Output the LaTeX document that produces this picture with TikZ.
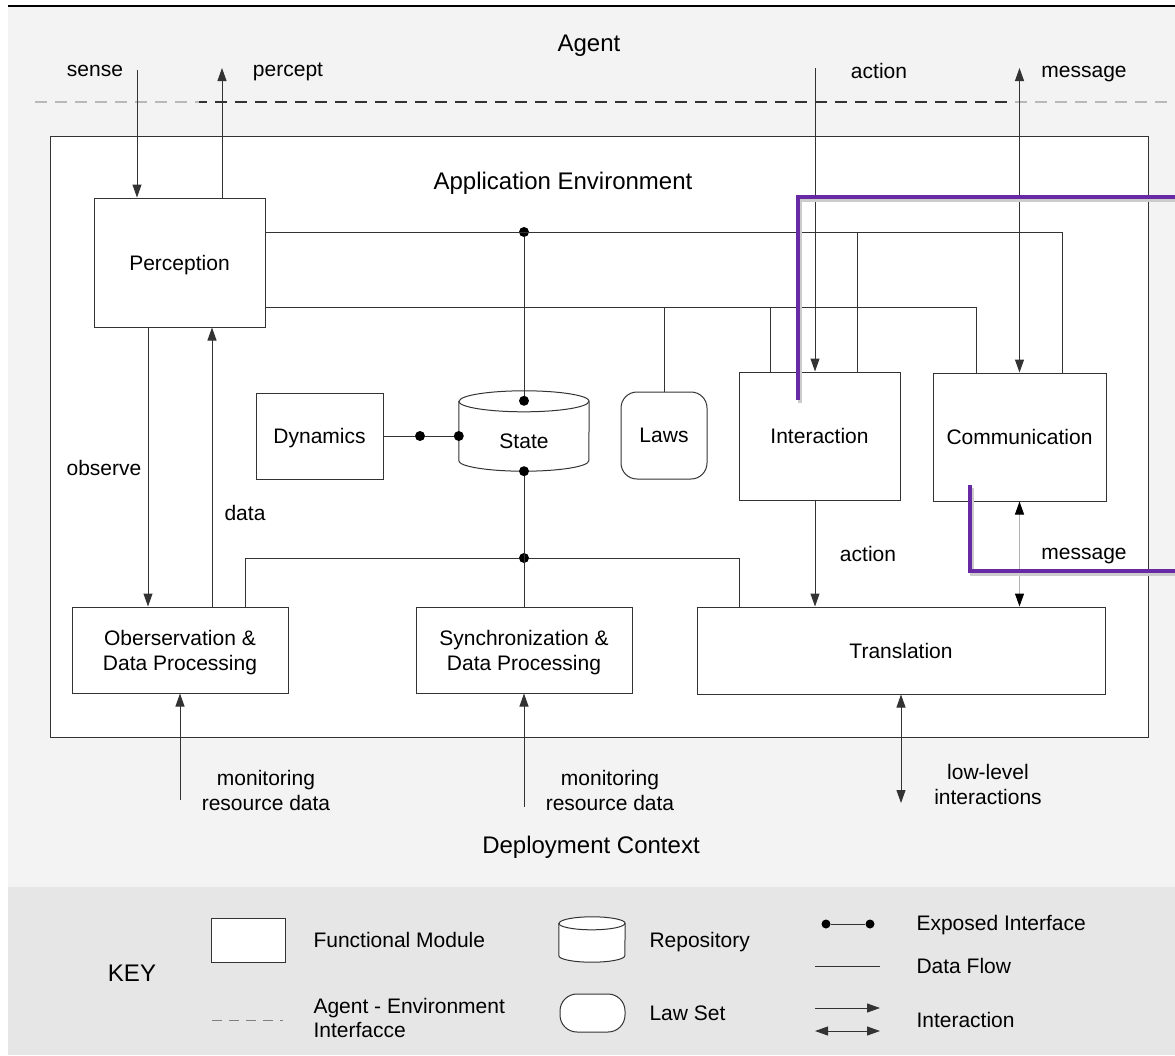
\documentclass[tikz,border=0pt]{standalone}
\usepackage{fontspec}
\setmainfont{Liberation Sans}
\usetikzlibrary{calc}
\usetikzlibrary{arrows.meta}

\definecolor{linegray}{HTML}{333333}
\definecolor{ctxgray}{HTML}{F2F3F2}
\definecolor{keygray}{HTML}{E6E6E6}
\definecolor{hilite}{RGB}{104,42,164}

\tikzset{
  module/.style={draw=linegray, fill=white, line width=1pt, align=center, inner sep=0pt,
    text depth=0pt, font=\fontsize{21}{25}\selectfont},
  repo/.style={inner sep=0pt},
  lawset/.style={module, rounded corners=16pt},
  port/.style={circle, fill=black, inner sep=0pt, minimum size=10pt},
  lbl/.style={align=center, text depth=0pt, font=\fontsize{21}{25}\selectfont},
  keylbl/.style={lbl, anchor=west, align=left},
  ttl/.style={text depth=0pt, font=\fontsize{24}{28}\selectfont},
  flow/.style={draw=linegray, line width=1pt},
  hl/.style={draw=hilite, line width=4pt},
}

% cylinder round a node: name, x radius, y radius of the caps
\newcommand{\drawrepo}[3]{%
  \filldraw[draw=linegray, fill=white, line width=1pt]
    ([yshift=-#3pt]#1.north west) -- ([yshift=#3pt]#1.south west)
    arc[start angle=180, end angle=360, x radius=#2pt, y radius=#3pt]
    -- ([yshift=-#3pt]#1.north east)
    arc[start angle=0, end angle=180, x radius=#2pt, y radius=#3pt] -- cycle;
  \draw[draw=linegray, line width=1pt] ([yshift=-#3pt]#1.north west)
    arc[start angle=180, end angle=360, x radius=#2pt, y radius=#3pt];}

\begin{document}
\begin{tikzpicture}[x=1pt, y=1pt, >={Triangle[length=13pt,width=9pt]}]
\useasboundingbox (0,0) rectangle (1175,-1055);
% context and key backgrounds
\fill[ctxgray] (8,-6) rectangle (1175,-887);
\fill[keygray] (8,-887) rectangle (1175,-1055);
\draw[black, line width=1.4pt] (8,-6) -- (1175,-6);

% agent - environment interface
\draw[gray!55, line width=1.3pt, dash pattern=on 12pt off 8pt] (35,-102) -- (199,-102);
\draw[linegray, line width=1.3pt, dash pattern=on 12pt off 8pt, dash phase=4pt] (199,-102) -- (1013,-102);
\draw[gray!55, line width=1.3pt, dash pattern=on 12pt off 8pt, dash phase=18pt] (1013,-102) -- (1175,-102);
\node[ttl] (agent) at (589,-43) {Agent};

% application environment
\node[module, minimum width=1098pt, minimum height=601pt] (appenv) at (599,-436.5) {};
\node[ttl] (appenvlbl) at (563,-181) {Application Environment};

\node[module, minimum width=171pt, minimum height=129pt] (perception) at (179.5,-262.5) {Perception};
\node[module, minimum width=127pt, minimum height=86pt] (dynamics) at (319.5,-436) {Dynamics};
\node[repo, minimum width=130pt, minimum height=80pt] (state) at (524,-431) {};
\drawrepo{state}{65}{10.5}
\node[lbl] (statelbl) at ([yshift=-10pt]state.center) {State};
\node[lawset, minimum width=86pt, minimum height=87pt] (laws) at (664,-435.5) {Laws};
\node[module, minimum width=161pt, minimum height=128pt] (interaction) at (819.5,-436) {Interaction};
\node[module, minimum width=173pt, minimum height=128pt] (comm) at (1019.5,-437) {Communication};
\node[module, minimum width=216pt, minimum height=86pt] (obs) at (180,-650) {Oberservation \&\\Data Processing};
\node[module, minimum width=216pt, minimum height=86pt] (sync) at (524,-650) {Synchronization \&\\Data Processing};
\node[module, minimum width=408pt, minimum height=87pt] (trans) at (901,-650.5) {Translation};

% exposed interfaces
\node[port] (topbus) at (524,-232) {};
\node[port] (statetop) at ([yshift=-10pt]state.north) {};
\node[port] (statebot) at (state.south) {};
\node[port] (dyndot) at (420,-436) {};
\node[port] (statewest) at (state.west |- dyndot) {};
\node[port] (lowbus) at (524,-558) {};
\coordinate (midbus) at (664,-307);

% data flows
\draw[flow] ([yshift=30.5pt]perception.east) -| ([xshift=-44.5pt]comm.north east);
\draw[flow] ([xshift=-43pt]interaction.north east) |- (topbus);
\draw[flow] (topbus) -- (statetop);
\draw[flow] ([yshift=-44.5pt]perception.east) -| ([xshift=44pt]comm.north west);
\draw[flow] (laws.north) -- (midbus);
\draw[flow] ([xshift=32pt]interaction.north west) |- (midbus);
\draw[flow] (dynamics.east) -- (dyndot) -- (statewest);
\draw[flow] (statebot) -- (sync.north);
\draw[flow] ([xshift=65pt]obs.north) |- (lowbus) -| ([xshift=-162pt]trans.north);

% interactions with the agent
\coordinate (senseend) at (137,-70);
\coordinate (perceptend) at (222,-68);
\coordinate (actionend) at (815,-68);
\coordinate (msgend) at (1019.5,-68);
\draw[flow, ->] (senseend) -- (perception.north -| senseend);
\draw[flow, ->] (perception.north -| perceptend) -- (perceptend);
\draw[flow, ->] (actionend) -- (interaction.north -| actionend);
\draw[flow, <->] (comm.north) -- (msgend);
\node[lbl] (senselbl) at (95,-71) {sense};
\node[lbl] (perceptlbl) at (288,-70) {percept};
\node[lbl] (actionlbl) at (879,-71) {action};
\node[lbl] (msglbl) at (1084,-72) {message};

% internal interactions
\coordinate (obsx) at (148,0);
\coordinate (datax) at (212,0);
\draw[flow, ->] (perception.south -| obsx) -- (obs.north -| obsx);
\draw[flow, ->] (obs.north -| datax) -- (perception.south -| datax);
\node[lbl] (observelbl) at (104,-468) {observe};
\node[lbl] (datalbl) at (245,-513) {data};
\draw[flow, ->] (interaction.south -| actionend) -- (trans.north -| actionend);
\draw[draw=gray!60, line width=1pt, {Triangle[length=13pt,width=9pt,color=black]}-{Triangle[length=13pt,width=9pt,color=black]}] (comm.south) -- (trans.north -| comm.south);
\node[lbl] (actionlbl2) at (868,-554) {action};
\node[lbl] (msglbl2) at (1084,-554) {message};

% deployment context
\coordinate (mon1) at (180,-800);
\coordinate (mon2) at (524,-807);
\coordinate (llend) at (901,-803);
\draw[flow, ->] (mon1) -- (obs.south);
\draw[flow, ->] (mon2) -- (sync.south);
\draw[flow, <->] (trans.south) -- (llend);
\node[lbl] (mon1lbl) at (266,-790) {monitoring\\resource data};
\node[lbl] (mon2lbl) at (610,-790) {monitoring\\resource data};
\node[lbl] (lllbl) at (988,-784) {low-level\\interactions};
\node[ttl] (deploy) at (591,-845) {Deployment Context};

% highlight
\draw[black!20, line width=4pt, shift={(2,-3)}] (798,-400) -- (798,-197) -- (1175,-197);
\draw[black!20, line width=4pt, shift={(2,-3)}] (970,-485) -- (970,-571) -- (1175,-571);
\draw[hl] (798,-400) -- (798,-197) -- (1175,-197);
\draw[hl] (970,-485) -- (970,-571) -- (1175,-571);

% key
\node[ttl] (key) at (132,-973) {KEY};
\node[module, minimum width=74pt, minimum height=44pt] (keymod) at (248,-940) {};
\node[keylbl] (keymodlbl) at (310,-940) {Functional Module};
\coordinate (keydasha) at (212,-1020);
\coordinate (keydashb) at (283,-1020);
\draw[gray, line width=1pt, dash pattern=on 10pt off 7pt] (keydasha) -- (keydashb);
\node[keylbl, font=\fontsize{21}{24}\selectfont] (keydashlbl) at (310,-1018) {Agent - Environment\\Interfacce};
\node[repo, minimum width=66pt, minimum height=45pt] (keyrepo) at (592,-939.5) {};
\drawrepo{keyrepo}{33}{6.5}
\node[keylbl] (keyrepolbl) at (646,-940) {Repository};
\node[lawset, rounded corners=17pt, minimum width=65pt, minimum height=38pt] (keylaw) at (592.5,-1013) {};
\node[keylbl] (keylawlbl) at (646,-1013) {Law Set};
\node[port, minimum size=9pt] (keyporta) at (826,-924) {};
\node[port, minimum size=9pt] (keyportb) at (870,-924) {};
\draw[flow] (keyporta) -- (keyportb);
\node[keylbl] (keyportlbl) at (913,-923) {Exposed Interface};
\coordinate (keyflowa) at (815,-966);
\coordinate (keyflowb) at (880,-966);
\draw[flow] (keyflowa) -- (keyflowb);
\node[keylbl] (keyflowlbl) at (913,-966) {Data Flow};
\coordinate (keyacta) at (815,-1008);
\coordinate (keyactb) at (880,-1008);
\coordinate (keyactc) at (815,-1031);
\coordinate (keyactd) at (880,-1031);
\draw[flow, ->] (keyacta) -- (keyactb);
\draw[flow, <->] (keyactc) -- (keyactd);
\node[keylbl] (keyactlbl) at (913,-1020) {Interaction};
\end{tikzpicture}
\end{document}
